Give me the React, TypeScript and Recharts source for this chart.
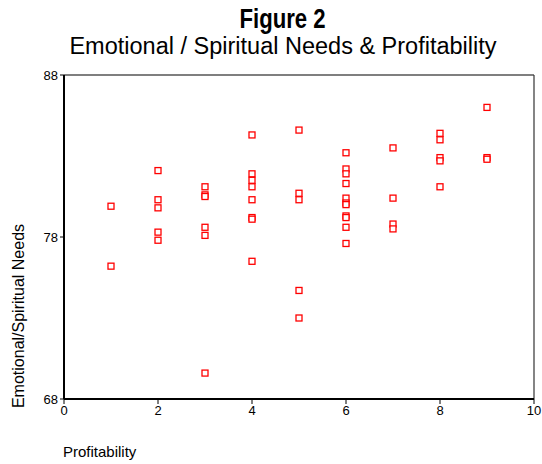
import React from "react";
import { ScatterChart, Scatter, XAxis, YAxis, ReferenceLine } from "recharts";

// profitability score (x) and emotional/spiritual needs score (y), one entry per point
const profitability = [
  1, 1,
  2, 2, 2, 2, 2,
  3, 3, 3, 3, 3, 3,
  4, 4, 4, 4, 4, 4, 4, 4,
  5, 5, 5, 5, 5,
  6, 6, 6, 6, 6, 6, 6, 6, 6, 6, 6,
  7, 7, 7, 7,
  8, 8, 8, 8, 8,
  9, 9, 9,
];
const needs = [
  79.9, 76.2,
  82.1, 80.3, 79.8, 78.3, 77.8,
  81.1, 80.6, 80.5, 78.6, 78.1, 69.6,
  84.3, 81.9, 81.5, 81.1, 80.3, 79.2, 79.1, 76.5,
  84.6, 80.7, 80.3, 74.7, 73.0,
  83.2, 82.2, 81.9, 81.3, 80.4, 80.1, 80.0, 79.3, 79.2, 78.6, 77.6,
  83.5, 80.4, 78.8, 78.5,
  84.4, 84.0, 82.9, 82.7, 81.1,
  86.0, 82.9, 82.8,
];
const xTicks = [0, 2, 4, 6, 8, 10];
const yTicks = [68, 78, 88];

const data = profitability.map((x, i) => ({ x, y: needs[i] }));

const FONT = "'Liberation Sans', Arial, sans-serif";

const Square = (props: any) => {
  const { cx, cy } = props;
  if (cx == null || cy == null) return null;
  return <rect x={cx - 3} y={cy - 3} width={6} height={6} fill="#fff" stroke="#ff0000" strokeWidth={1.3} />;
};

export default function App() {
  return (
    <div style={{ position: "absolute", left: 0, top: 0, width: 542, height: 464, background: "#fff", fontFamily: FONT }}>
      <div style={{ position: "absolute", left: 0, width: 566, top: 4, textAlign: "center", fontSize: 27, fontWeight: "bold", lineHeight: "30px" }}>
        <span style={{ display: "inline-block", transform: "scaleX(0.82)" }}>Figure 2</span>
      </div>
      <div style={{ position: "absolute", left: 0, width: 566, top: 33, textAlign: "center", fontSize: 23.5, lineHeight: "26px" }}>
        Emotional / Spiritual Needs &amp; Profitability
      </div>
      <div style={{ position: "absolute", left: 63, top: 443, fontSize: 15, lineHeight: "18px" }}>Profitability</div>
      <div
        style={{
          position: "absolute", left: 19, top: 316, fontSize: 16, whiteSpace: "nowrap",
          transform: "translate(-50%, -50%) rotate(-90deg)", lineHeight: "18px",
        }}
      >
        Emotional/Spiritual Needs
      </div>
      <ScatterChart width={542} height={464} margin={{ top: 75, right: 8, bottom: 0, left: 0 }}>
        <XAxis
          type="number" dataKey="x" domain={[0, 10]} ticks={xTicks} height={65}
          axisLine={{ stroke: "#000", strokeWidth: 2 }} tickLine={{ stroke: "#000" }} tickSize={5}
          tick={{ fill: "#000", fontSize: 13, fontFamily: FONT }} interval={0}
        />
        <YAxis
          type="number" dataKey="y" domain={[68, 88]} ticks={yTicks} width={64}
          axisLine={{ stroke: "#000", strokeWidth: 2 }} tickLine={{ stroke: "#000" }} tickSize={4}
          tick={{ fill: "#000", fontSize: 13, fontFamily: FONT }} interval={0}
        />
        <ReferenceLine y={88} stroke="#555" strokeWidth={1.5} />
        <ReferenceLine x={10} stroke="#333" strokeWidth={1.2} />
        <Scatter data={data} shape={Square} isAnimationActive={false} />
      </ScatterChart>
    </div>
  );
}
